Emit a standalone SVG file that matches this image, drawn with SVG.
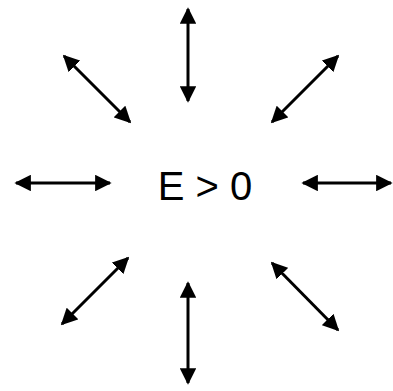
<svg xmlns="http://www.w3.org/2000/svg" width="393" height="391" viewBox="0 0 393 391">
<style>
.c{stroke:#000;stroke-width:3;fill:none;marker-start:url(#h);marker-end:url(#h)}
.t{font-family:"Liberation Sans",Arial,sans-serif;font-size:40px;fill:#000}
</style>
<defs>
<marker id="h" viewBox="0 0 10 10" refX="9" refY="5" markerWidth="5.5" markerHeight="5.5" orient="auto-start-reverse" markerUnits="strokeWidth">
<path d="M0,0 L10,5 L0,10 Z" fill="#000"/>
</marker>
</defs>
<rect width="393" height="391" fill="#fff"/>
<g id="connectors">
<line class="c" x1="188" y1="9" x2="188" y2="101"/>
<line class="c" x1="188" y1="283" x2="188" y2="383"/>
<line class="c" x1="16" y1="183" x2="110" y2="183"/>
<line class="c" x1="303" y1="183" x2="391" y2="183"/>
<line class="c" x1="64" y1="56" x2="130" y2="122"/>
<line class="c" x1="272" y1="122" x2="338" y2="56"/>
<line class="c" x1="128" y1="258" x2="62" y2="324"/>
<line class="c" x1="272" y1="263" x2="338" y2="330"/>
</g>
<g id="label"><text class="t" x="205" y="200" text-anchor="middle">E &gt; 0</text></g>
</svg>
